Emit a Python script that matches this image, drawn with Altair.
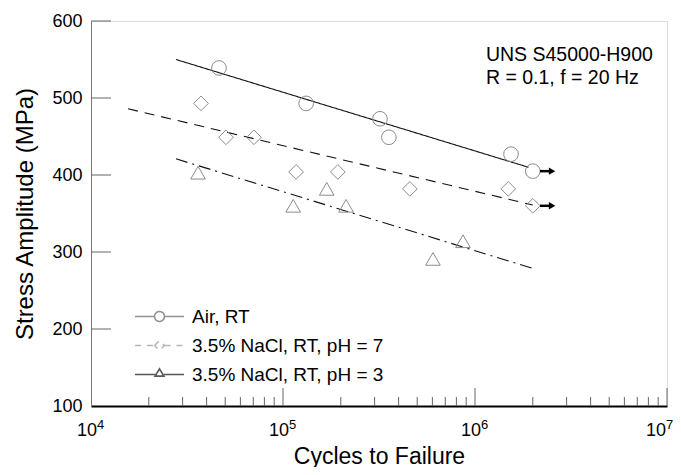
import altair as alt
import pandas as pd

# ---------------- data ----------------
series = ["Air, RT", "3.5% NaCl, RT, pH = 7", "3.5% NaCl, RT, pH = 3"]

air_cycles = [46400, 132000, 320000, 356000, 1540000, 2000000]
air_stress = [539, 493, 473, 449, 427, 405]

ph7_cycles = [37400, 50500, 70600, 117000, 193000, 458000, 1490000, 2000000]
ph7_stress = [493, 449, 449, 404, 404, 382, 382, 360]

ph3_cycles = [36100, 113000, 169000, 213000, 604000, 866000]
ph3_stress = [403, 360, 382, 360, 291, 314]

# fitted trend lines (start / end)
fit_cycles = [[27700, 1900000], [15600, 2000000], [27700, 1980000]]
fit_stress = [[550, 410], [486, 361], [421, 279]]

# run-out specimens (arrows)
runout_cycles = [2000000, 2000000]
runout_stress = [405, 360]

x_ticks = [1e4, 1e5, 1e6, 1e7]
x_tick_base = ["10", "10", "10", "10"]
x_tick_exponents = ["4", "5", "6", "7"]
y_ticks = [100, 200, 300, 400, 500, 600]

annotation = ["UNS S45000-H900", "R = 0.1, f = 20 Hz"]
annotation_cycles = [1.14e6, 1.14e6]
annotation_stress = [556, 526]

# ---------------- tables ----------------
FONT = "Liberation Sans"
PX_PER_MPA = 385 / 500.0
all_cycles = [air_cycles, ph7_cycles, ph3_cycles]
all_stress = [air_stress, ph7_stress, ph3_stress]

pts = pd.DataFrame(
    [{"cycles": c, "stress": s, "series": name}
     for name, cs, ss in zip(series, all_cycles, all_stress)
     for c, s in zip(cs, ss)]
)
fits = pd.DataFrame(
    [{"cycles": c, "stress": s, "series": name, "o": i}
     for name, cs, ss in zip(series, fit_cycles, fit_stress)
     for i, (c, s) in enumerate(zip(cs, ss))]
)

minor = []
for dec in [1e4, 1e5, 1e6]:
    for m in range(2, 10):
        minor.append(m * dec)
minor_df = pd.DataFrame({"cycles": minor, "y0": 100, "y1": 100 + 9 / PX_PER_MPA})
major_df = pd.DataFrame({"cycles": x_ticks[1:], "y0": 100, "y1": 100 + 18 / PX_PER_MPA})
ytick_df = pd.DataFrame({"stress": y_ticks[1:], "x0": 1e4, "x1": 1e4 * 10 ** (20 / 192)})

arrow_df = pd.DataFrame({
    "x0": [c * 1.09 for c in runout_cycles],
    "x1": [c * 1.24 for c in runout_cycles],
    "tip": [c * 1.26 for c in runout_cycles],
    "stress": runout_stress,
})
anno_df = pd.DataFrame({"cycles": annotation_cycles, "stress": annotation_stress, "text": annotation})
xlab_df = pd.DataFrame({
    "cycles": x_ticks,
    "base": x_tick_base,
    "exp": x_tick_exponents,
    "ybase": 100 - 25 / PX_PER_MPA,
    "yexp": 100 - 19 / PX_PER_MPA,
})

# ---------------- scales / axes ----------------
xscale = alt.Scale(type="log", domain=[1e4, 1e7], nice=False)
yscale = alt.Scale(domain=[100, 600], nice=False, zero=False)

xaxis = alt.Axis(
    values=x_ticks, labels=False,
    ticks=False, grid=False, domainColor="#000000", domainWidth=2,
    title="Cycles to Failure", titleFont=FONT, titleFontSize=23,
    titleFontWeight="normal", titleColor="#000000",
    titleY=57, titleBaseline="alphabetic",
)
yaxis = alt.Axis(
    values=y_ticks, ticks=False, grid=False, domainColor="#777777", domainWidth=1,
    labelFont=FONT, labelFontSize=18, labelColor="#000000", labelPadding=9,
    labelFlush=False, labelOverlap=False,
    title="Stress Amplitude (MPa)", titleFont=FONT, titleFontSize=24,
    titleFontWeight="normal", titleColor="#000000", titlePadding=14,
)


def X(field):
    return alt.X(field, type="quantitative", scale=xscale, axis=xaxis)


def Y(field):
    return alt.Y(field, type="quantitative", scale=yscale, axis=yaxis)


layers = []

# axis tick marks (inside)
layers.append(alt.Chart(minor_df).mark_rule(color="#666666", strokeWidth=1).encode(
    x=X("cycles"), y=Y("y0"), y2="y1"))
layers.append(alt.Chart(major_df).mark_rule(color="#666666", strokeWidth=1).encode(
    x=X("cycles"), y=Y("y0"), y2="y1"))
layers.append(alt.Chart(ytick_df).mark_rule(color="#666666", strokeWidth=1).encode(
    x=X("x0"), x2="x1", y=Y("stress")))

# x tick labels "10" with superscript exponent (last one nudged to stay on the page)
for i, v in enumerate(x_ticks):
    shift = 6 if i < len(x_ticks) - 1 else -1
    sub = xlab_df[xlab_df["cycles"] == v]
    layers.append(alt.Chart(sub).mark_text(align="right", baseline="middle", font=FONT,
                                           fontSize=18, color="#000000", dx=shift).encode(
        x=X("cycles"), y=Y("ybase"), text="base"))
    layers.append(alt.Chart(sub).mark_text(align="left", baseline="middle", font=FONT,
                                           fontSize=13, color="#000000", dx=shift).encode(
        x=X("cycles"), y=Y("yexp"), text="exp"))

# fitted lines
dashes = [[1, 0], [10, 7], [12, 5, 2, 5]]
for name, d in zip(series, dashes):
    layers.append(
        alt.Chart(fits).transform_filter(alt.datum.series == name)
        .mark_line(color="#111111", strokeWidth=1.1, strokeDash=d)
        .encode(x=X("cycles"), y=Y("stress"), order="o:Q")
    )

# data points
shapes = ["circle", "diamond", "triangle-up"]
for name, sh in zip(series, shapes):
    layers.append(
        alt.Chart(pts).transform_filter(alt.datum.series == name)
        .mark_point(shape=sh, size=215, filled=False, color="#8c8c8c", strokeWidth=1, opacity=1)
        .encode(x=X("cycles"), y=Y("stress"))
    )

# run-out arrows
layers.append(alt.Chart(arrow_df).mark_rule(color="#000000", strokeWidth=2.5).encode(
    x=X("x0"), x2="x1", y=Y("stress")))
layers.append(alt.Chart(arrow_df).mark_point(shape="triangle-right", size=55, filled=True,
                                             color="#000000", opacity=1).encode(
    x=X("tip"), y=Y("stress")))

# annotation
layers.append(alt.Chart(anno_df).mark_text(align="left", baseline="middle", font=FONT,
                                           fontSize=19.5, color="#000000").encode(
    x=X("cycles"), y=Y("stress"), text="text"))

# legend (native legend, custom symbols: line segment + marker)
legend_paths = [
    "M-3.06,0L-0.62,0M0.62,0L3.06,0M-0.62,0A0.62,0.62,0,1,1,0.62,0A0.62,0.62,0,1,1,-0.62,0",
    "M-3.06,0L-0.62,0M0.62,0L3.06,0M-0.62,0L0,-0.62L0.62,0L0,0.62Z",
    "M-3.06,0L-0.55,0M0.55,0L3.06,0M-0.55,0.2L0,-0.7L0.55,0.2Z",
]
leg = alt.Legend(
    title=None, orient="none", legendX=59, legendY=286, padding=0,
    symbolSize=256, symbolStrokeWidth=1.6, symbolFillColor="transparent",
    labelFont=FONT, labelFontSize=19, labelColor="#000000", labelOffset=23,
    rowPadding=9, labelLimit=400,
)
layers.append(
    alt.Chart(pts).transform_filter("false")
    .mark_point(size=256, filled=False, strokeWidth=1.6)
    .encode(
        x=X("cycles"), y=Y("stress"),
        shape=alt.Shape("series:N", scale=alt.Scale(domain=series, range=legend_paths), legend=leg),
        stroke=alt.Stroke("series:N", scale=alt.Scale(domain=series, range=["#666666", "#9a9a9a", "#111111"]), legend=leg),
        strokeDash=alt.StrokeDash("series:N", scale=alt.Scale(domain=series, range=[[1, 0], [6, 6], [1, 0]]), legend=leg),
    )
)

chart = (
    alt.layer(*layers)
    .properties(
        width=576, height=385,
        autosize=alt.AutoSizeParams(type="none"),
        padding={"left": 83, "top": 13, "right": 6, "bottom": 61},
        background="white",
    )
    .configure_view(stroke=None)
    .configure(font=FONT)
)

chart.save("out.html", embed_options={"renderer": "svg", "actions": False})
